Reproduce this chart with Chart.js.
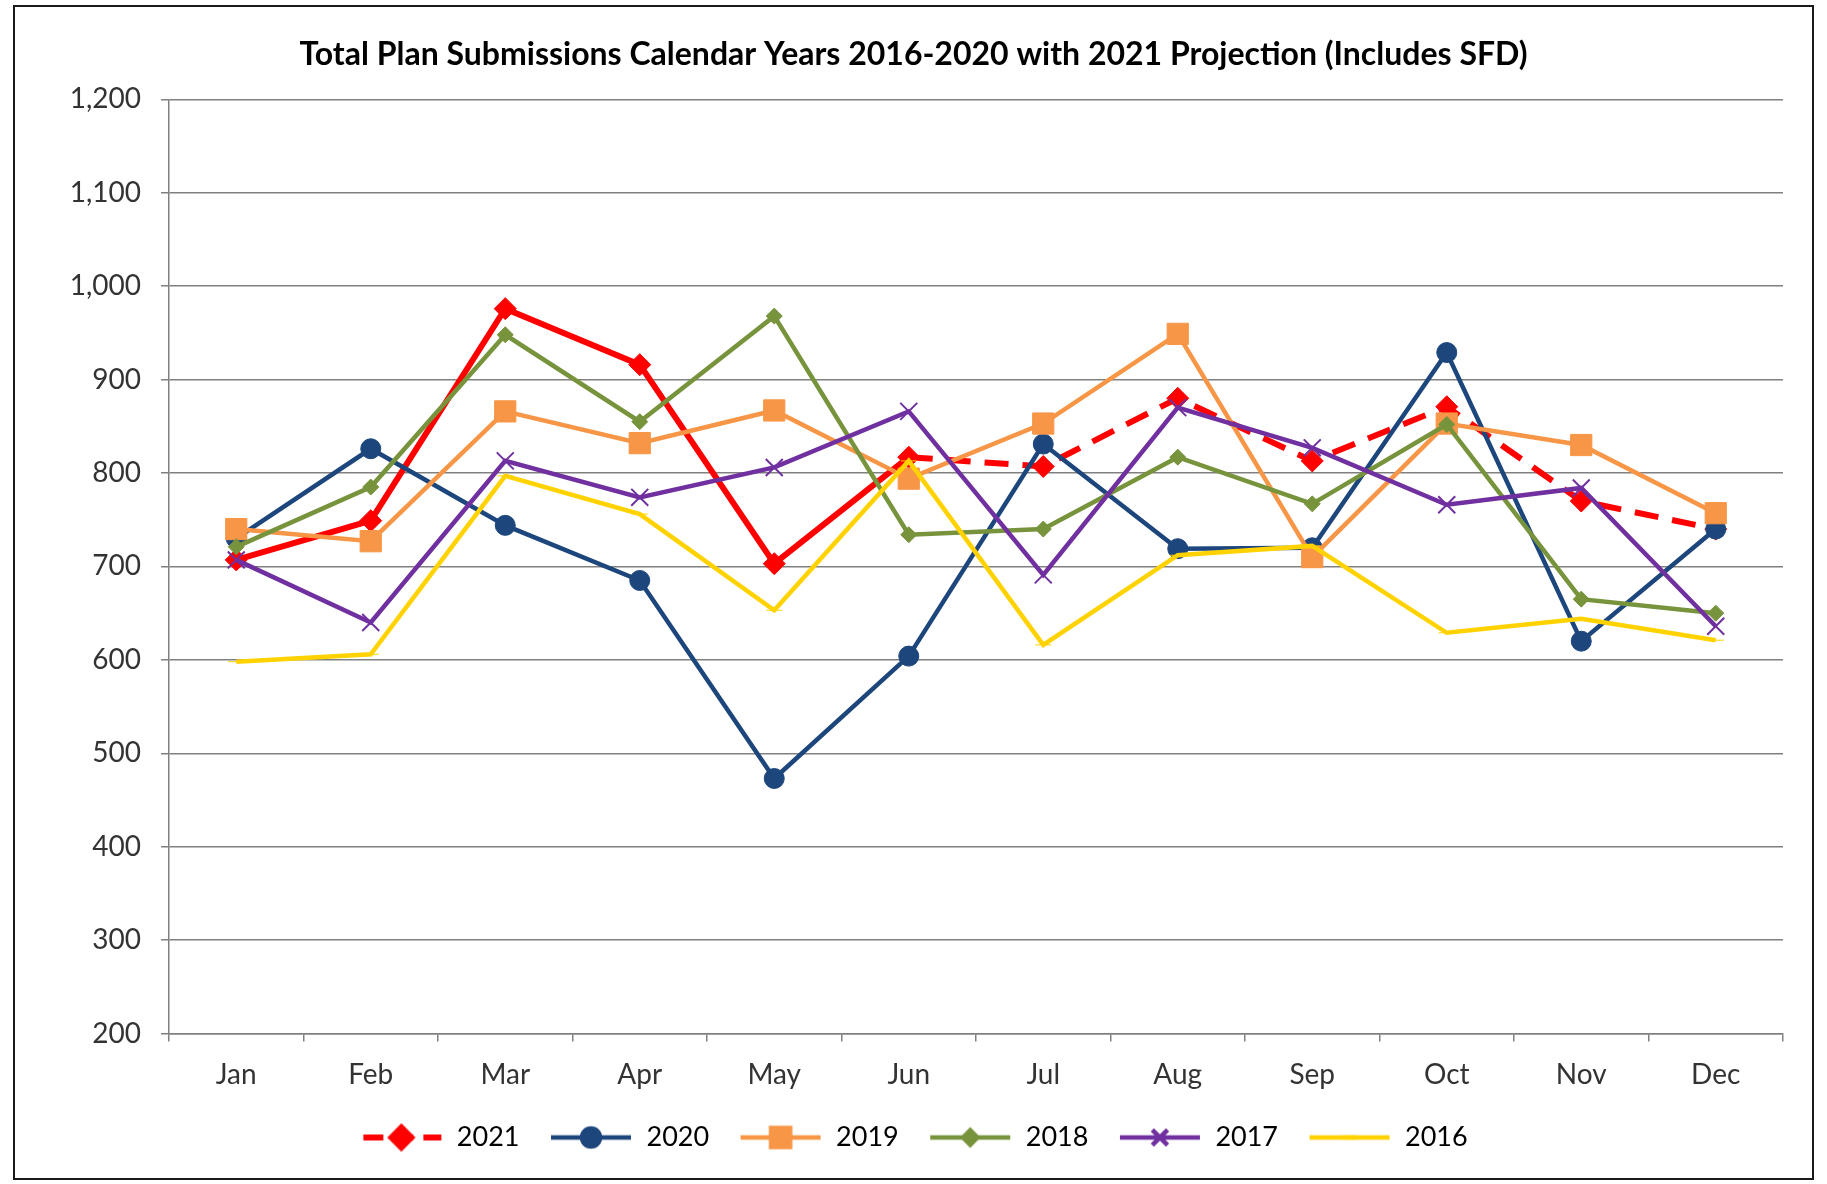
<!DOCTYPE html>
<html>
<head>
<meta charset="utf-8">
<script src="https://cdn.jsdelivr.net/npm/chart.js@4.4.0/dist/chart.umd.min.js"></script>
<style>
    body { margin: 0; background: #fff; }
    #wrap { position: absolute; left: 0; top: 0; width: 1827px; height: 1184px; }
    #frame { position: absolute; left: 13px; top: 5px; width: 1801px; height: 1175px;
             border: 2px solid #1a1a1a; box-sizing: border-box; }
</style>
</head>
<body>
<div id="frame"></div>
<div id="wrap"><canvas id="ourChart"></canvas></div>
<script>
const months = ['Jan', 'Feb', 'Mar', 'Apr', 'May', 'Jun', 'Jul', 'Aug', 'Sep', 'Oct', 'Nov', 'Dec'];
const yTicks = [200, 300, 400, 500, 600, 700, 800, 900, 1000, 1100, 1200];

const values2021 = [707, 749, 976, 916, 703, 817, 807, 880, 813, 871, 770, 740];
const values2020 = [730, 826, 744, 685, 473, 604, 831, 719, 720, 929, 620, 740];
const values2019 = [740, 727, 866, 832, 867, 794, 853, 949, 710, 853, 830, 757];
const values2018 = [721, 785, 948, 855, 968, 734, 740, 817, 767, 852, 665, 650];
const values2017 = [707, 640, 813, 774, 806, 866, 691, 870, 827, 766, 784, 636];
const values2016 = [598, 606, 797, 756, 653, 813, 616, 712, 722, 629, 644, 621];

const fontName = 'Lato, "Open Sans", sans-serif';

// little line+marker pictures for the legend, like excel does
function makeIcon(color, lineWidth, style, radius, dashed) {
    let c = document.createElement('canvas');
    c.width = 84;
    c.height = 30;
    let ctx = c.getContext('2d');
    ctx.strokeStyle = color;
    ctx.fillStyle = color;
    ctx.lineWidth = lineWidth;
    if (dashed) {
        ctx.setLineDash([20, 10]);
        ctx.lineDashOffset = -2;
    }
    ctx.beginPath();
    ctx.moveTo(2, 15);
    ctx.lineTo(82, 15);
    ctx.stroke();
    ctx.setLineDash([]);
    Chart.helpers.drawPoint(ctx, {pointStyle: style, radius: radius, rotation: 0, borderWidth: style === 'crossRot' ? 2 : 1}, 42, 15);
    return c;
}

const series = [
    {label: '2021', data: values2021, color: '#ff0000', width: 6, style: 'rectRot', radius: 11},
    {label: '2020', data: values2020, color: '#1c467c', width: 4.5, style: 'circle', radius: 10},
    {label: '2019', data: values2019, color: '#f79646', width: 4.5, style: 'rect', radius: 15},
    {label: '2018', data: values2018, color: '#77933c', width: 4.5, style: 'rectRot', radius: 8},
    {label: '2017', data: values2017, color: '#7030a0', width: 4.5, style: 'crossRot', radius: 12},
    {label: '2016', data: values2016, color: '#ffd200', width: 4.5, style: 'line', radius: 8}
];

const legendIcons = series.map((s, i) => makeIcon(s.color, s.width, s.style, s.radius * 0.9, i === 0));

const datasets = series.map((s, i) => ({
    label: s.label,
    data: s.data,
    borderColor: s.color,
    backgroundColor: s.color,
    borderWidth: s.width,
    pointStyle: s.style,
    pointRadius: s.radius,
    pointBorderWidth: s.style === 'crossRot' ? 2 : 1,
    pointBackgroundColor: s.color,
    pointBorderColor: s.color,
    tension: 0,
    order: series.length - i,
    // 2021 is a projection after June -> dashed
    segment: i === 0 ? {
        borderDash: ctx => ctx.p0DataIndex >= 5 ? [24, 14] : undefined
    } : undefined
}));

let ourCanvas = document.getElementById('ourChart');

const chartElement = new Chart(ourCanvas, {
    type: 'line',
    data: {
        labels: months,
        datasets: datasets
    },
    options: {
        responsive: true,
        maintainAspectRatio: false,
        animation: false,
        layout: {
            padding: {left: 44, right: 44, top: 0, bottom: 23}
        },
        plugins: {
            title: {
                display: true,
                text: 'Total Plan Submissions Calendar Years 2016-2020 with 2021 Projection (Includes SFD)',
                color: '#000',
                font: {family: fontName, size: 32, weight: 'bold'},
                padding: {top: 35, bottom: 26}
            },
            legend: {
                position: 'bottom',
                labels: {
                    usePointStyle: true,
                    pointStyleWidth: 84,
                    padding: 29.5,
                    color: '#000',
                    font: {family: fontName, size: 27},
                    generateLabels: chart => chart.data.datasets.map((ds, i) => ({
                        text: ds.label,
                        pointStyle: legendIcons[i],
                        fillStyle: ds.borderColor,
                        strokeStyle: ds.borderColor,
                        lineWidth: 0,
                        hidden: false,
                        datasetIndex: i
                    }))
                }
            },
            tooltip: {enabled: false}
        },
        scales: {
            x: {
                offset: true,
                afterFit: axis => {
                    axis.height = 61;
                },
                grid: {
                    offset: true,
                    drawOnChartArea: false,
                    tickLength: 8,
                    color: '#808080',
                    lineWidth: 1.5
                },
                border: {color: '#808080', width: 1.5},
                ticks: {
                    color: '#333',
                    font: {family: fontName, size: 28},
                    padding: 17
                }
            },
            y: {
                min: yTicks[0],
                max: yTicks[yTicks.length - 1],
                afterBuildTicks: axis => {
                    axis.ticks = yTicks.map(v => ({value: v}));
                },
                afterFit: axis => {
                    axis.width = 125;
                },
                grid: {
                    color: '#808080',
                    lineWidth: 1.5,
                    tickLength: 8
                },
                border: {color: '#808080', width: 1.5},
                ticks: {
                    color: '#333',
                    font: {family: fontName, size: 28},
                    padding: 20,
                    callback: v => v.toLocaleString('en-US')
                }
            }
        }
    }
});
</script>
</body>
</html>
